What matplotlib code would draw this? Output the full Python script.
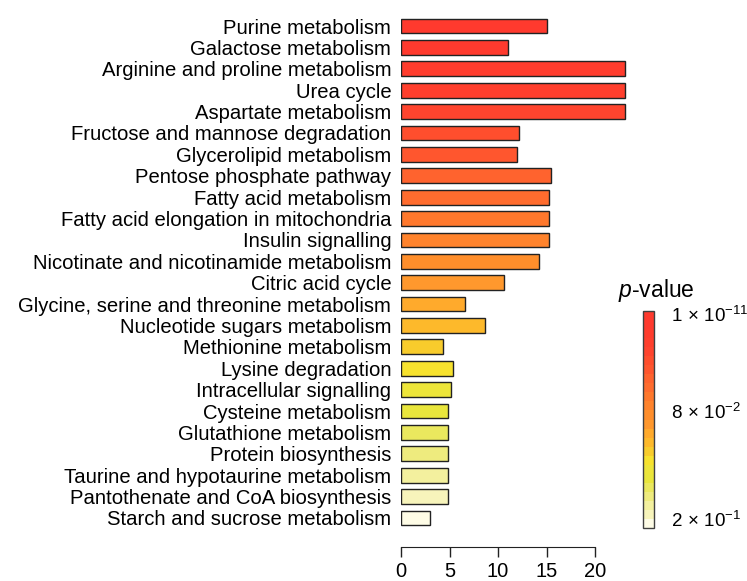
import matplotlib
matplotlib.use("Agg")
import matplotlib.pyplot as plt
from matplotlib.colors import ListedColormap, Normalize
from matplotlib.cm import ScalarMappable

plt.rcParams["font.family"] = ["Liberation Sans", "DejaVu Sans"]
plt.rcParams["mathtext.fontset"] = "custom"
plt.rcParams["mathtext.rm"] = "Liberation Sans"
plt.rcParams["mathtext.it"] = "Liberation Sans:italic"

pathways = [
    "Purine metabolism",
    "Galactose metabolism",
    "Arginine and proline metabolism",
    "Urea cycle",
    "Aspartate metabolism",
    "Fructose and mannose degradation",
    "Glycerolipid metabolism",
    "Pentose phosphate pathway",
    "Fatty acid metabolism",
    "Fatty acid elongation in mitochondria",
    "Insulin signalling",
    "Nicotinate and nicotinamide metabolism",
    "Citric acid cycle",
    "Glycine, serine and threonine metabolism",
    "Nucleotide sugars metabolism",
    "Methionine metabolism",
    "Lysine degradation",
    "Intracellular signalling",
    "Cysteine metabolism",
    "Glutathione metabolism",
    "Protein biosynthesis",
    "Taurine and hypotaurine metabolism",
    "Pantothenate and CoA biosynthesis",
    "Starch and sucrose metabolism",
]

enrichment = [15.0, 11.0, 23.1, 23.1, 23.1, 12.2, 11.9, 15.5, 15.2, 15.2, 15.2, 14.2,
              10.6, 6.6, 8.7, 4.3, 5.4, 5.2, 4.8, 4.8, 4.8, 4.8, 4.8, 3.0]

# colour of each pathway on the p-value scale (red = most significant)
pvalue_colors = [
    "#FF3A2E", "#FF3A2E", "#FF3C2D", "#FF3F2D", "#FF442E", "#FF4E2D",
    "#FF562E", "#FF632E", "#FF6C2E", "#FF782C", "#FF832C", "#FF8E2B",
    "#FF982D", "#FFAA2C", "#FDB92B", "#F8CC2C", "#F7E22E", "#EDE53A",
    "#E9E63C", "#EAE85E", "#EEEB7E", "#F3F09E", "#F7F4BB", "#FEFCE6",
]

cbar_ticks = [0.04, 0.54, 0.985]
cbar_labels = [r"$2\,\times\,10^{-1}$", r"$8\,\times\,10^{-2}$", r"$1\,\times\,10^{-11}$"]

W, H = 747, 581
fig = plt.figure(figsize=(W / 100, H / 100), dpi=100)

ax_top, ax_bot = 13.2, 547
ax = fig.add_axes([401 / W, (H - ax_bot) / H, (634 - 401) / W, (ax_bot - ax_top) / H])

n = len(pathways)
ypos = list(range(n))
ax.barh(ypos, enrichment, height=0.69, color=pvalue_colors,
        edgecolor="#222222", linewidth=1.0)
ax.set_ylim(n - 1 + 1.356, -0.6)
ax.set_xlim(0, 24)

ax.set_yticks(ypos)
ax.set_yticklabels(pathways, fontsize=14.6)
ax.tick_params(axis="y", length=0, pad=7)

ax.set_xticks([0, 5, 10, 15, 20])
ax.tick_params(axis="x", length=7, width=1.0, labelsize=14.5, pad=4, color="#222222")
for s in ("left", "top", "right"):
    ax.spines[s].set_visible(False)
ax.spines["bottom"].set_bounds(0, 20)
ax.spines["bottom"].set_color("#222222")

# p-value colour bar
cmap = ListedColormap(pvalue_colors[::-1])
cax = fig.add_axes([643 / W, (H - 528) / H, 11 / W, 217 / H])
sm = ScalarMappable(norm=Normalize(0, 1), cmap=cmap)
cb = fig.colorbar(sm, cax=cax)
cb.outline.set_edgecolor("#404040")
cb.outline.set_linewidth(1.0)
cb.set_ticks(cbar_ticks)
cb.set_ticklabels(cbar_labels)
cax.tick_params(length=0, pad=12, labelsize=13.5)

fig.text(656 / W, (H - 290) / H, r"$\mathit{p}$-value", fontsize=16.5,
         ha="center", va="center")

fig.savefig("out.png", dpi=100, facecolor="white")
